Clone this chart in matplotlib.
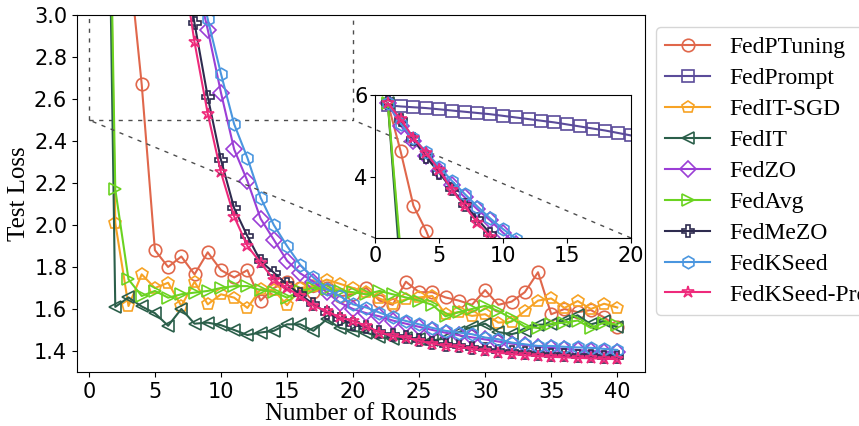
import numpy as np
import matplotlib.pyplot as plt
from mpl_toolkits.axes_grid1.inset_locator import mark_inset

# rounds 1..40
rounds = np.arange(1, 41)

fedptuning = [5.80, 4.62, 3.29, 2.67, 1.88, 1.80, 1.85, 1.765, 1.87, 1.785,
              1.75, 1.785, 1.64, 1.70, 1.73, 1.70, 1.68, 1.70, 1.66, 1.67,
              1.70, 1.64, 1.62, 1.73, 1.68, 1.68, 1.655, 1.64, 1.62, 1.69,
              1.62, 1.635, 1.68, 1.775, 1.575, 1.60, 1.585, 1.595, 1.56, 1.515]
fedprompt = [5.75, 5.72, 5.70, 5.68, 5.65, 5.62, 5.59, 5.56, 5.53, 5.49,
             5.45, 5.41, 5.37, 5.33, 5.28, 5.23, 5.18, 5.13, 5.07, 5.01,
             4.96, 4.91, 4.86, 4.81, 4.76, 4.71, 4.66, 4.61, 4.56, 4.51,
             4.46, 4.41, 4.36, 4.31, 4.26, 4.21, 4.16, 4.11, 4.06, 4.01]
fedit_sgd = [5.80, 2.01, 1.614, 1.765, 1.70, 1.725, 1.614, 1.73, 1.622, 1.67,
             1.654, 1.605, 1.694, 1.69, 1.618, 1.70, 1.71, 1.74, 1.72, 1.70,
             1.68, 1.65, 1.625, 1.646, 1.655, 1.662, 1.575, 1.585, 1.567, 1.575,
             1.535, 1.54, 1.59, 1.64, 1.65, 1.605, 1.638, 1.60, 1.625, 1.607]
fedit = [5.80, 1.61, 1.655, 1.612, 1.58, 1.52, 1.60, 1.53, 1.535, 1.523,
         1.50, 1.476, 1.488, 1.496, 1.527, 1.527, 1.496, 1.551, 1.51, 1.496,
         1.488, 1.466, 1.456, 1.46, 1.455, 1.45, 1.46, 1.49, 1.515, 1.53,
         1.49, 1.48, 1.496, 1.525, 1.527, 1.545, 1.57, 1.527, 1.543, 1.512]
fedzo = [5.80, 5.25, 4.88, 4.50, 4.15, 3.80, 3.50, 3.20, 2.93, 2.63,
         2.36, 2.21, 2.03, 1.93, 1.83, 1.77, 1.73, 1.68, 1.63, 1.60,
         1.58, 1.565, 1.545, 1.53, 1.515, 1.50, 1.487, 1.475, 1.465, 1.455,
         1.445, 1.435, 1.428, 1.42, 1.415, 1.41, 1.405, 1.40, 1.397, 1.393]
fedavg = [5.80, 2.17, 1.741, 1.662, 1.686, 1.654, 1.67, 1.678, 1.686, 1.70,
          1.709, 1.709, 1.69, 1.682, 1.654, 1.686, 1.70, 1.694, 1.686, 1.68,
          1.67, 1.686, 1.67, 1.655, 1.64, 1.62, 1.565, 1.585, 1.60, 1.615,
          1.59, 1.555, 1.515, 1.51, 1.53, 1.535, 1.545, 1.51, 1.535, 1.525]
fedmezo = [5.80, 5.38, 4.92, 4.48, 4.10, 3.70, 3.32, 2.96, 2.61, 2.31,
           2.08, 1.947, 1.828, 1.773, 1.717, 1.67, 1.622, 1.583, 1.551, 1.527,
           1.512, 1.49, 1.475, 1.465, 1.452, 1.44, 1.43, 1.422, 1.415, 1.408,
           1.40, 1.395, 1.39, 1.386, 1.382, 1.379, 1.376, 1.374, 1.372, 1.37]
fedkseed = [5.80, 5.30, 4.95, 4.60, 4.25, 3.90, 3.58, 3.27, 2.98, 2.72,
            2.48, 2.32, 2.13, 2.00, 1.90, 1.81, 1.75, 1.694, 1.662, 1.622,
            1.607, 1.583, 1.56, 1.543, 1.527, 1.51, 1.496, 1.488, 1.48, 1.464,
            1.456, 1.44, 1.432, 1.424, 1.424, 1.42, 1.417, 1.415, 1.41, 1.405]
fedkseed_pro = [5.80, 5.41, 4.95, 4.58, 4.17, 3.68, 3.28, 2.87, 2.53, 2.25,
                2.04, 1.90, 1.82, 1.74, 1.70, 1.66, 1.615, 1.59, 1.56, 1.543,
                1.52, 1.488, 1.472, 1.464, 1.448, 1.435, 1.425, 1.418, 1.41, 1.40,
                1.392, 1.385, 1.38, 1.376, 1.372, 1.37, 1.367, 1.365, 1.363, 1.361]

names = ["FedPTuning", "FedPrompt", "FedIT-SGD", "FedIT", "FedZO",
         "FedAvg", "FedMeZO", "FedKSeed", "FedKSeed-Pro"]
series = [fedptuning, fedprompt, fedit_sgd, fedit, fedzo,
          fedavg, fedmezo, fedkseed, fedkseed_pro]
colors = ["#E0674B", "#5B4C9A", "#F7A325", "#2B5F4A", "#9B3ED6",
          "#6BD321", "#2E2B4F", "#4A96DF", "#EE2A7B"]
markers = ["o", "s", "p", "<", "D", ">", "P", "h", "*"]

serif = "Liberation Serif"

fig = plt.figure(figsize=(8.59, 4.26), dpi=100)
ax = fig.add_axes([0.0896, 0.1268, 0.6613, 0.838])
axins = fig.add_axes([0.4366, 0.4413, 0.298, 0.3357])

for name, y, c, m in zip(names, series, colors, markers):
    ms = 8 if m == "D" else 9
    kw = dict(color=c, marker=m, mfc="none", ms=ms, lw=1.5, mew=1.2)
    ax.plot(rounds, y, label=name, **kw)
    axins.plot(rounds, y, **kw)

ax.set_xlim(-0.9, 42.1)
ax.set_ylim(1.3, 3.0)
ax.set_xticks(np.arange(0, 41, 5))
ax.set_yticks(np.arange(1.4, 3.01, 0.2))
ax.tick_params(labelsize=15)
ax.set_xlabel("Number of Rounds", family=serif, fontsize=18, labelpad=1)
ax.set_ylabel("Test Loss", family=serif, fontsize=18, labelpad=3)

axins.set_xlim(0, 20)
axins.set_ylim(2.5, 6)
axins.set_xticks([0, 5, 10, 15, 20])
axins.set_yticks([4, 6])
axins.tick_params(labelsize=15, pad=2)

mark_inset(ax, axins, loc1=3, loc2=4, fc="none", ec="0.3",
           ls=(0, (3, 4)), lw=1)

ax.legend(loc="upper left", bbox_to_anchor=(0.7637, 0.9366),
          bbox_transform=fig.transFigure, borderaxespad=0,
          prop={"family": serif, "size": 17}, labelspacing=0.4,
          handlelength=1.9, edgecolor="0.8", fancybox=True)

plt.savefig("out.png", dpi=100)
